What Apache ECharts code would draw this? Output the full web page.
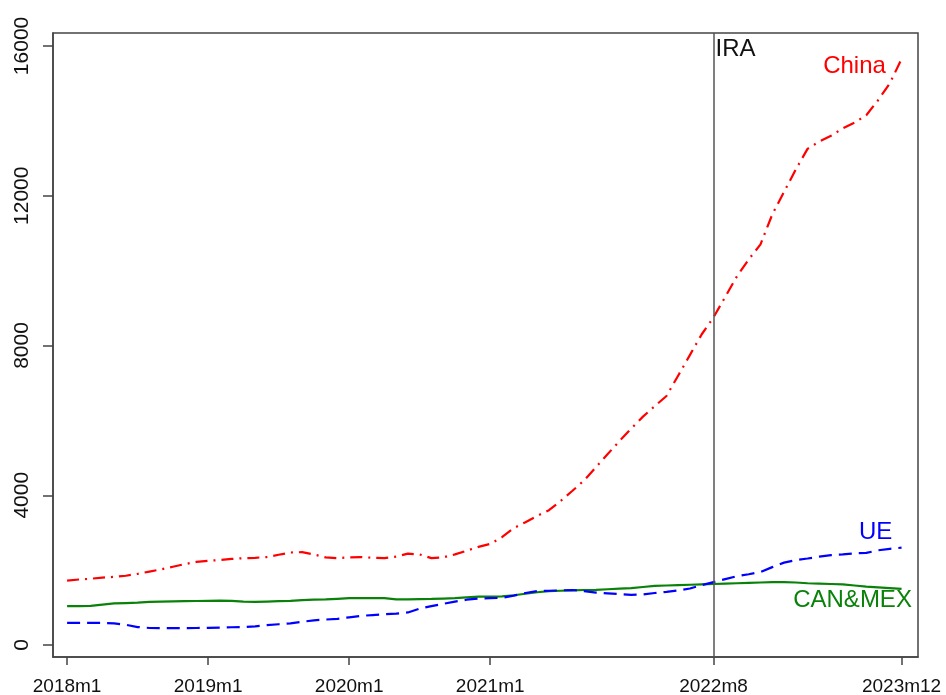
<!DOCTYPE html>
<html>
<head>
<meta charset="utf-8">
<script src="https://cdn.jsdelivr.net/npm/echarts@6/dist/echarts.min.js"></script>
<style>
  html, body { margin: 0; padding: 0; background: #fff; }
  #chart { width: 946px; height: 695px; }
</style>
</head>
<body>
<div id="chart"></div>
<script>
// months 2018m1 .. 2023m12, index 0..71
var months = [];
for (var y = 2018; y <= 2023; y++) {
  for (var m = 1; m <= 12; m++) months.push(y + 'm' + m);
}
var xTickIdx = [0, 12, 24, 36, 55, 71];
var yTicks = [0, 4000, 8000, 12000, 16000];
var iraIdx = 55;

var china = [1720, 1750, 1770, 1800, 1820, 1850, 1900, 1960, 2020, 2090, 2160, 2220,
  2250, 2270, 2300, 2320, 2330, 2350, 2410, 2470, 2480, 2420, 2340, 2320,
  2340, 2350, 2330, 2320, 2360, 2440, 2420, 2320, 2340, 2420, 2520, 2620,
  2700, 2880, 3120, 3280, 3450, 3600, 3850, 4120, 4400, 4750, 5100, 5450,
  5780, 6100, 6380, 6650, 7200, 7750, 8300, 8750, 9300, 9850, 10300, 10700,
  11500, 12100, 12700, 13250, 13450, 13600, 13800, 13950, 14150, 14550, 15000, 15650];
var ue = [590, 590, 590, 590, 580, 540, 480, 455, 450, 450, 450, 455,
  460, 465, 475, 480, 500, 530, 555, 580, 620, 660, 680, 700,
  740, 780, 800, 820, 840, 870, 970, 1040, 1100, 1160, 1210, 1240,
  1250, 1260, 1320, 1390, 1440, 1450, 1460, 1470, 1440, 1400, 1380, 1360,
  1340, 1350, 1390, 1420, 1460, 1510, 1600, 1680, 1760, 1840, 1890, 1950,
  2080, 2200, 2270, 2310, 2360, 2400, 2420, 2450, 2460, 2530, 2570, 2600];
var canmex = [1040, 1040, 1045, 1080, 1110, 1120, 1130, 1150, 1160, 1165, 1170, 1175,
  1180, 1185, 1180, 1160, 1150, 1160, 1170, 1180, 1200, 1210, 1220, 1235,
  1250, 1255, 1255, 1250, 1220, 1220, 1225, 1230, 1240, 1250, 1270, 1290,
  1290, 1300, 1330, 1370, 1410, 1440, 1450, 1460, 1470, 1475, 1490, 1505,
  1520, 1550, 1580, 1590, 1600, 1610, 1620, 1630, 1640, 1650, 1660, 1670,
  1680, 1680, 1670, 1650, 1640, 1630, 1620, 1590, 1560, 1540, 1520, 1500];

function pairs(arr) {
  return arr.map(function (v, i) { return [i, v]; });
}
var last = months.length - 1;
var font = 'Liberation Sans, Arial, sans-serif';

function endTag(text, arr, color, offset) {
  return {
    symbol: 'circle', symbolSize: 0, silent: true,
    data: [{ coord: [last, arr[last]] }],
    label: { show: true, formatter: text, color: color, fontSize: 24,
      fontFamily: font, position: 'inside', offset: offset }
  };
}

var chart = echarts.init(document.getElementById('chart'));
chart.setOption({
  animation: false,
  grid: { left: 53, right: 28, top: 33, bottom: 38, show: true,
    outerBoundsMode: 'none', containLabel: false,
    borderColor: '#444', borderWidth: 1.5, backgroundColor: '#fff' },
  xAxis: {
    type: 'value', min: -1.2, max: 72.4,
    splitLine: { show: false },
    axisLine: { show: true, onZero: false, lineStyle: { color: '#444', width: 1.5 } },
    axisTick: { show: true, customValues: xTickIdx, length: 8, lineStyle: { color: '#444', width: 1.5 } },
    axisLabel: { customValues: xTickIdx, margin: 20, color: '#111', fontSize: 19, fontFamily: font,
      formatter: function (v) { return months[Math.round(v)]; } }
  },
  yAxis: {
    type: 'value', min: -320, max: 16346,
    splitLine: { show: false },
    axisLine: { show: true, onZero: false, lineStyle: { color: '#444', width: 1.5 } },
    axisTick: { show: true, customValues: yTicks, length: 10, lineStyle: { color: '#444', width: 1.5 } },
    axisLabel: { customValues: yTicks, rotate: 90, margin: 20, color: '#111', fontSize: 21, fontFamily: font,
      formatter: function (v) { return String(v); } }
  },
  series: [
    {
      name: 'CAN&MEX', type: 'line', data: pairs(canmex), showSymbol: false,
      lineStyle: { color: '#0a820a', width: 2.2 },
      markPoint: endTag('CAN&MEX', canmex, '#0a820a', [-49, 12])
    },
    {
      name: 'UE', type: 'line', data: pairs(ue), showSymbol: false,
      lineStyle: { color: '#0000ff', width: 2.2, type: [13, 7] },
      markPoint: endTag('UE', ue, '#0000ff', [-26, -15])
    },
    {
      name: 'China', type: 'line', data: pairs(china), showSymbol: false,
      lineStyle: { color: '#ff0000', width: 2.2, type: [12, 6, 2, 6] },
      markPoint: endTag('China', china, '#ff0000', [-47, 7]),
      markLine: {
        silent: true, symbol: 'none',
        lineStyle: { color: '#555', width: 1.5, type: 'solid' },
        label: { show: false },
        data: [{ xAxis: iraIdx }]
      }
    },
    {
      name: 'IRA', type: 'line', data: [],
      markPoint: {
        symbol: 'circle', symbolSize: 0, silent: true,
        data: [{ coord: [iraIdx, 15900] }],
        label: { show: true, formatter: 'IRA', color: '#111', fontSize: 24, fontFamily: font,
          position: 'inside', align: 'left', offset: [2, 0] }
      }
    }
  ]
});
</script>
</body>
</html>
